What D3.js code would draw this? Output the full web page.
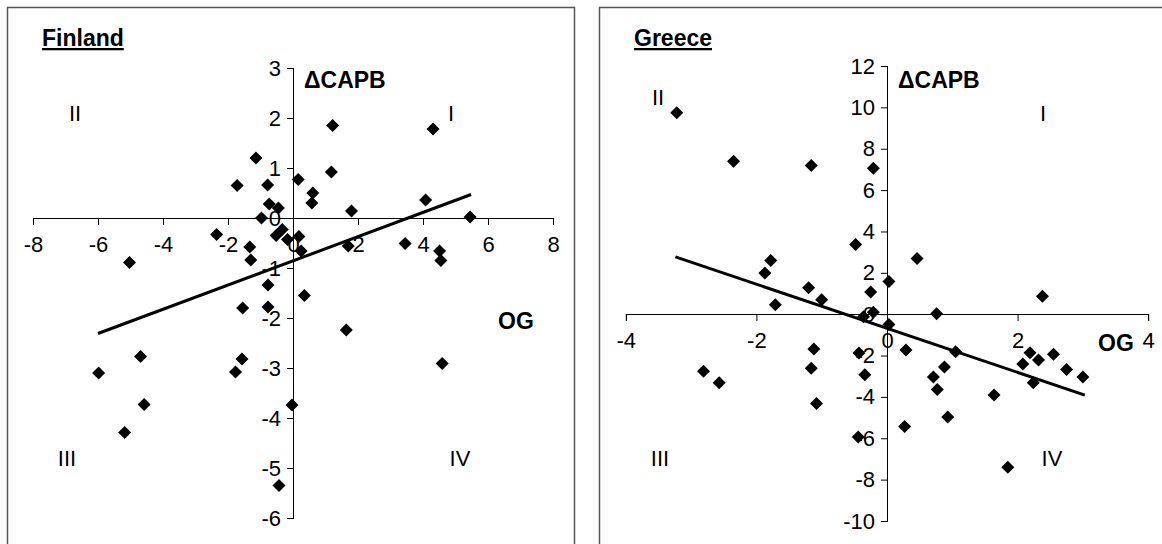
<!DOCTYPE html>
<html>
<head>
<meta charset="utf-8">
<script src="https://cdn.jsdelivr.net/npm/d3@7"></script>
<style>
  body { margin: 0; background: #fff; }
  svg { display: block; font-family: "Liberation Sans", Arial, sans-serif; }
  .axis text { font-size: 22px; fill: #000; }
  .axis path, .axis line { stroke: #000; stroke-width: 1; }
</style>
</head>
<body>
<svg width="1162" height="544"></svg>
<script>

// Finland: output gap (OG) vs change in cyclically adjusted primary balance
let finOG = [1.22, 4.31, -1.14, 1.18, 0.16, -1.72, -0.78, 0.61, 0.58, -0.73, -0.45, 4.08, 1.8, 5.45,
             -0.97, -2.35, -0.33, -0.52, -0.17, 0.18, -1.33, 0.25, 1.7, 3.45, 4.51, 4.55,
             -1.3, -5.03, -0.77, 0.35, -1.55, -0.77, 1.64, -4.69, -1.57, 4.59, -5.98, -1.77,
             -4.58, -0.03, -5.18, -0.43];
let finCAPB = [1.85, 1.78, 1.2, 0.92, 0.77, 0.65, 0.66, 0.5, 0.3, 0.28, 0.2, 0.36, 0.14, 0.02,
               0.0, -0.33, -0.23, -0.35, -0.43, -0.37, -0.58, -0.66, -0.56, -0.51, -0.66, -0.85,
               -0.84, -0.89, -1.34, -1.55, -1.8, -1.78, -2.24, -2.77, -2.82, -2.91, -3.1, -3.08,
               -3.73, -3.74, -4.29, -5.35];
let finTrend = [[-6, -2.31], [5.48, 0.47]];
let finXTicks = [-8, -6, -4, -2, 0, 2, 4, 6, 8];
let finYTicks = [-6, -5, -4, -3, -2, -1, 0, 1, 2, 3];

// Greece
let greOG = [-3.22, -2.35, -1.16, -0.21, -0.48, 0.46, -1.78, -1.87, 0.03, -1.2, -0.25, 2.38, -1.0,
             -1.71, -0.21, 0.76, -0.36, 0.03, -1.12, 0.29, 1.05, 2.19, 2.55, 2.32, -0.43, 2.08,
             -1.16, 0.88, -2.81, 2.75, -0.34, 0.71, 3.0, -2.57, 2.24, 0.77, 1.64, -1.08, 0.93,
             0.27, -0.44, 1.85];
let greCAPB = [9.74, 7.4, 7.19, 7.06, 3.37, 2.69, 2.6, 1.99, 1.58, 1.28, 1.07, 0.87, 0.7,
               0.46, 0.09, 0.02, -0.13, -0.5, -1.68, -1.73, -1.82, -1.87, -1.94, -2.21, -1.88, -2.41,
               -2.62, -2.55, -2.76, -2.67, -2.93, -3.04, -3.04, -3.32, -3.32, -3.64, -3.91, -4.32, -4.97,
               -5.43, -5.94, -7.4];
let greTrend = [[-3.24, 2.77], [3.03, -3.91]];
let greXTicks = [-4, -2, 0, 2, 4];
let greYTicks = [-10, -8, -6, -4, -2, 0, 2, 4, 6, 8, 10, 12];

let quadrants = ["I", "II", "III", "IV"];

let svg = d3.select("svg");

let panels = [
  {
    name: "Finland", og: finOG, capb: finCAPB, trend: finTrend,
    xTicks: finXTicks, yTicks: finYTicks,
    box: {x: 7, y: 7, w: 567, h: 560},
    xRange: [33, 553], yRange: [518, 68],
    titleX: 42,
    capbX: 304, capbY: 88,
    ogX: 498, ogY: 329,
    quad: {I: [451, 121], II: [75, 121], III: [67, 466], IV: [460, 466]}
  },
  {
    name: "Greece", og: greOG, capb: greCAPB, trend: greTrend,
    xTicks: greXTicks, yTicks: greYTicks,
    box: {x: 599, y: 7, w: 580, h: 560},
    xRange: [625.8, 1148.2], yRange: [521, 66],
    titleX: 634,
    capbX: 898, capbY: 88,
    ogX: 1098, ogY: 351,
    quad: {I: [1043, 121], II: [658, 105], III: [660, 466], IV: [1052, 466]}
  }
];

// diamond marker, half-diagonal r
function diamond(r) {
  return "M0," + (-r) + "L" + r + ",0L0," + r + "L" + (-r) + ",0Z";
}

// plain hyphen for negatives, like the original
let fmt = function(d) { return String(d); };

panels.forEach(function(p) {
  let x = d3.scaleLinear()
      .domain(d3.extent(p.xTicks))
      .range(p.xRange);
  let y = d3.scaleLinear()
      .domain(d3.extent(p.yTicks))
      .range(p.yRange);

  let g = svg.append("g");

  // panel frame
  g.append("rect")
      .attr("x", p.box.x + 0.5)
      .attr("y", p.box.y + 0.5)
      .attr("width", p.box.w)
      .attr("height", p.box.h)
      .attr("fill", "none")
      .attr("stroke", "#555")
      .attr("stroke-width", 1.5);

  // title
  g.append("text")
      .attr("x", p.titleX)
      .attr("y", 46)
      .style("font-size", "23px")
      .style("font-weight", "bold")
      .style("text-decoration", "underline")
      .text(p.name);

  // axes cross at zero
  g.append("g")
      .attr("class", "axis")
      .attr("transform", "translate(0," + Math.round(y(0)) + ")")
      .call(d3.axisBottom(x).tickValues(p.xTicks).tickSize(7).tickSizeOuter(7).tickPadding(11)
        .tickFormat(fmt));

  g.append("g")
      .attr("class", "axis")
      .attr("transform", "translate(" + Math.round(x(0)) + ",0)")
      .call(d3.axisLeft(y).tickValues(p.yTicks).tickSize(6).tickSizeOuter(6).tickPadding(6)
        .tickFormat(fmt));

  svg.selectAll(".axis .domain").attr("shape-rendering", "crispEdges");

  // axis titles
  g.append("text")
      .attr("x", p.capbX)
      .attr("y", p.capbY)
      .style("font-size", "23px")
      .style("font-weight", "bold")
      .text("\u0394CAPB");

  g.append("text")
      .attr("x", p.ogX)
      .attr("y", p.ogY)
      .style("font-size", "23px")
      .style("font-weight", "bold")
      .text("OG");

  // quadrant labels
  quadrants.forEach(function(q) {
    g.append("text")
        .attr("x", p.quad[q][0])
        .attr("y", p.quad[q][1])
        .attr("text-anchor", "middle")
        .style("font-size", "22px")
        .text(q);
  });

  // trend line
  let line = d3.line()
      .x(function(d) { return x(d[0]); })
      .y(function(d) { return y(d[1]); });

  g.append("path")
      .datum(p.trend)
      .attr("fill", "none")
      .attr("stroke", "#000")
      .attr("stroke-width", 3)
      .attr("d", line);

  // points
  g.selectAll(".pt")
      .data(d3.zip(p.og, p.capb))
      .enter()
      .append("path")
      .attr("class", "pt")
      .attr("d", diamond(6.5))
      .attr("transform", function(d) { return "translate(" + x(d[0]) + "," + y(d[1]) + ")"; })
      .attr("fill", "#000");
});

</script>
</body>
</html>
